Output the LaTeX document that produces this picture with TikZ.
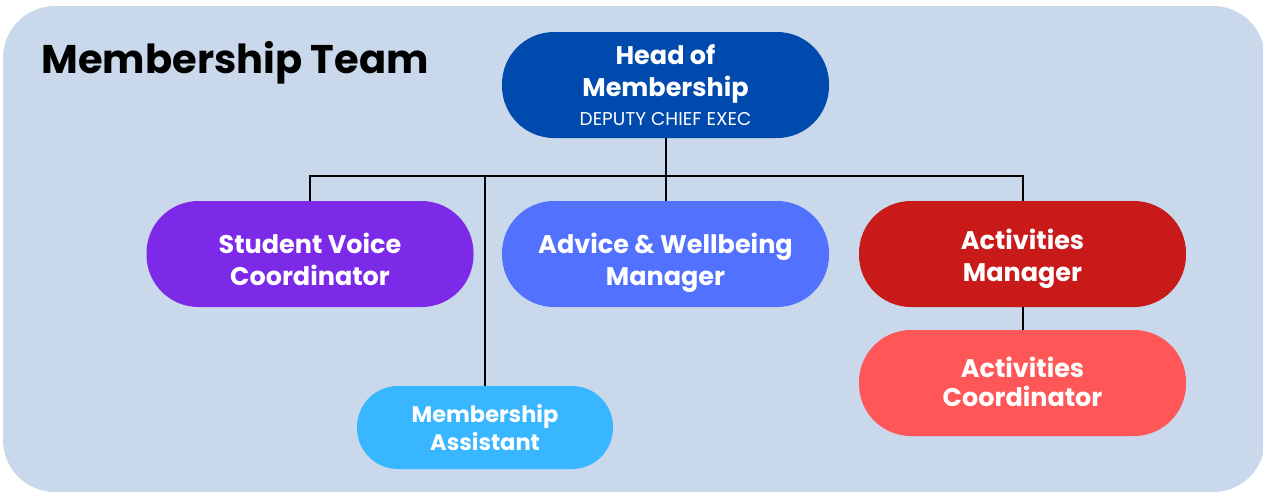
\documentclass[tikz,border=0pt]{standalone}
\usepackage{fontspec}
\setmainfont{Poppins}
\definecolor{bgc}{HTML}{C9D8EA}
\definecolor{headc}{HTML}{004AAD}
\definecolor{purplec}{HTML}{7D2AE8}
\definecolor{advicec}{HTML}{5271FF}
\definecolor{actmc}{HTML}{C91A1A}
\definecolor{actcc}{HTML}{FF5757}
\definecolor{assistc}{HTML}{38B6FF}
\begin{document}
\begin{tikzpicture}[x=1pt,y=-1pt,
  pill/.style={rectangle, rounded corners=52pt, minimum width=327pt, minimum height=106pt, inner sep=0pt, text=white, align=center, font=\fontsize{25.5}{32}\selectfont\bfseries},
  small pill/.style={pill, rounded corners=41pt, minimum width=256pt, minimum height=83pt, font=\fontsize{22.5}{28}\selectfont\bfseries},
  link/.style={draw=black, line width=2pt}]
\useasboundingbox (0,0) rectangle (1263,493);
\fill[bgc, rounded corners=52pt] (3,6) rectangle (1265,492);
\node[anchor=base west, font=\fontsize{40}{48}\selectfont\bfseries] (title) at (38,73) {Membership Team};
\node[pill, fill=headc] (head) at (665.5,85) {Head of\\Membership\\[-3pt]{\fontsize{18.5}{22}\selectfont\mdseries DEPUTY CHIEF EXEC}};
\node[pill, fill=purplec, text height=62pt, text depth=0pt] (sv) at (310,254) {Student Voice\\Coordinator};
\node[pill, fill=advicec, text height=62pt, text depth=0pt] (aw) at (665.5,254) {Advice \& Wellbeing\\Manager};
\node[pill, fill=actmc, text height=55pt, text depth=0pt] (am) at (1022.5,254) {Activities\\Manager};
\node[pill, fill=actcc, text height=46pt, text depth=0pt, font=\fontsize{25.5}{29}\selectfont\bfseries] (ac) at (1022.5,383) {Activities\\Coordinator};
\node[small pill, fill=assistc, text height=45pt, text depth=0pt] (ma) at (485,427.5) {Membership\\Assistant};
\coordinate (hub) at (665.5,176);
\draw[link] (head.south) -- (hub);
\draw[link] (sv.north) |- (hub) -| (am.north);
\draw[link] (hub) -- (aw.north);
\draw[link] (ma.north) -- (ma.north |- hub);
\draw[link] (am.south) -- (ac.north);
\end{tikzpicture}
\end{document}
